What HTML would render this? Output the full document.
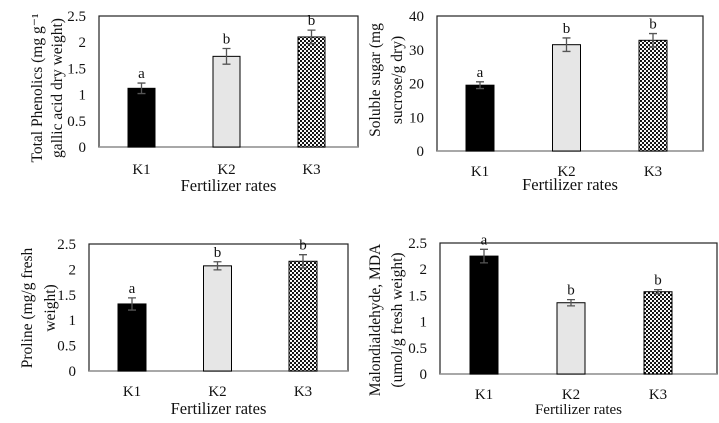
<!DOCTYPE html>
<html><head><meta charset="utf-8"><style>
html,body{margin:0;padding:0;background:#fff}
svg{display:block}
text{font-family:"Liberation Serif",serif;fill:#111}
</style></head><body>
<svg id="s" width="719" height="423" viewBox="0 0 719 423">
<defs>
<pattern id="dots" width="4" height="4" patternUnits="userSpaceOnUse">
<rect width="4" height="4" fill="#fff"/>
<circle cx="1" cy="1" r="1.1" fill="#000"/>
<circle cx="3" cy="3" r="1.1" fill="#000"/>
</pattern>
</defs>
</svg>
<script>
const categories=["K1","K2","K3"];
const phenolicsValues=[1.12,1.73,2.1];
const phenolicsErrors=[0.1,0.15,0.13];
const phenolicsLetters=["a","b","b"];
const sugarValues=[19.5,31.5,32.8];
const sugarErrors=[1,2,2];
const sugarLetters=["a","b","b"];
const prolineValues=[1.32,2.07,2.16];
const prolineErrors=[0.12,0.08,0.13];
const prolineLetters=["a","b","b"];
const mdaValues=[2.25,1.36,1.57];
const mdaErrors=[0.13,0.06,0.04];
const mdaLetters=["a","b","b"];
const ticks25=["0","0.5","1","1.5","2","2.5"];
const ticks40=["0","10","20","30","40"];

const NS="http://www.w3.org/2000/svg";
const svg=document.getElementById('s');
function el(tag,attrs,parent,txt){const e=document.createElementNS(NS,tag);for(const k in attrs)e.setAttribute(k,attrs[k]);if(txt!==undefined)e.textContent=txt;(parent||svg).appendChild(e);return e;}
const fills=["#000","#e6e6e6","url(#dots)"];

function chart(c){
  const g=el('g',{});
  
  
  const maxV=parseFloat(c.ticks[c.ticks.length-1]);
  const y=v=>c.bottom-(v/maxV)*(c.bottom-c.top);
  const x=i=>c.bar0+i*c.step;
  const box=el('rect',{x:c.left,y:c.top,width:c.right-c.left,height:c.bottom-c.top,fill:'none',stroke:'#222','stroke-width':1.2},g);
  
  
  const ax=el('line',{x1:c.left,x2:c.right,y1:c.bottom,y2:c.bottom,stroke:'#999','stroke-width':1.5},g);
  
  
  c.ticks.forEach(t=>{
    const tt=el('text',{x:c.left-13,y:y(parseFloat(t))+5,'text-anchor':'end','font-size':15},g,t);
    
    
  });
  c.values.forEach((v,i)=>{
    const bx=x(i);
    const r=el('rect',{x:bx,y:y(v),width:c.bw,height:c.bottom-y(v),fill:fills[i],stroke:'#000','stroke-width':1},g);
    
    
    const cx=bx+c.bw/2,e=c.errors[i];
    const eg=el('path',{d:`M${cx},${y(v+e)}V${y(v-e)}M${cx-4},${y(v+e)}H${cx+4}M${cx-4},${y(v-e)}H${cx+4}`,stroke:'#555','stroke-width':1.3,fill:'none'},g);
    
    
    const lt=el('text',{x:cx,y:y(v+e)-5,'text-anchor':'middle','font-size':15},g,c.letters[i]);
    
    
    const xl=el('text',{x:cx,y:c.kY,'text-anchor':'middle','font-size':15},g,categories[i]);
    
    
  });
  const xt=el('text',{x:(c.left+c.right)/2,y:c.xtY,'text-anchor':'middle','font-size':c.xtSize||16.5},g,'Fertilizer rates');
  
  
  c.ylines.forEach((l,k)=>{
    const yt=el('text',{x:0,y:0,'text-anchor':'middle','font-size':15.5,transform:`translate(${c.ylx[k]},${c.yly}) rotate(-90)`},g,l);
    
    
  });
}

chart({name:'total-phenolics-chart',left:99,right:358,top:16,bottom:147,bar0:128,step:85,bw:27,
  ticks:ticks25,values:phenolicsValues,errors:phenolicsErrors,letters:phenolicsLetters,
  kY:174,xtY:191,ylines:["Total Phenolics (mg g\u207B\u00B9","gallic acid dry weight)"],ylx:[42,62],yly:88});
chart({name:'soluble-sugar-chart',left:437,right:703,top:16,bottom:151,bar0:466,step:86.5,bw:28,
  ticks:ticks40,values:sugarValues,errors:sugarErrors,letters:sugarLetters,
  kY:176,xtY:190,ylines:["Soluble sugar (mg","sucrose/g dry)"],ylx:[380,402],yly:80});
chart({name:'proline-chart',left:89,right:348,top:244,bottom:371,bar0:118,step:85.5,bw:28,
  ticks:ticks25,values:prolineValues,errors:prolineErrors,letters:prolineLetters,
  kY:396,xtY:414,ylines:["Proline (mg/g fresh","weight)"],ylx:[32,55],yly:308});
chart({name:'mda-chart',left:440,right:717,top:243,bottom:374,bar0:470,step:87,bw:28,
  ticks:ticks25,values:mdaValues,errors:mdaErrors,letters:mdaLetters,
  kY:399,xtY:414,xtSize:15,ylines:["Malondialdehyde, MDA","(umol/g fresh weight)"],ylx:[380,402],yly:320});
</script>
</body></html>
